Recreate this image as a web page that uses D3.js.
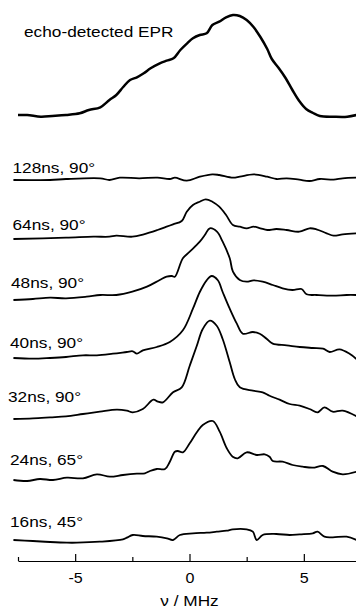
<!DOCTYPE html>
<html>
<head>
<meta charset="utf-8">
<script src="https://cdn.jsdelivr.net/npm/d3@7"></script>
<style>
  html, body { margin: 0; padding: 0; background: #fff; }
  svg text { font-family: "Liberation Sans", Arial, Helvetica, sans-serif; fill: #000; }
</style>
</head>
<body>
<script>
// 频率 (MHz) / 强度 (a.u.) —— 点
var eprData = [[-7.5,0],[-7.1,0],[-6.5,-1.7],[-6.0,-1],[-5.4,0],[-4.8,1.7],[-4.4,5],[-3.9,7.7],[-3.5,15],[-3.2,20],
  [-2.9,28],[-2.6,35],[-2.3,37.7],[-2.0,41.7],[-1.7,46.7],[-1.3,51.7],[-1.0,54.3],[-0.7,56.7],[-0.4,65],[-0.1,71.7],
  [0.15,76.7],[0.45,80],[0.75,81.7],[1.0,90],[1.3,93.3],[1.6,97.7],[1.9,100],[2.2,99],[2.5,95],[2.8,88],[3.1,78],
  [3.4,66],[3.6,56],[3.9,47],[4.2,37],[4.5,25],[4.8,14],[5.1,6],[5.4,2],[5.7,-1],[6.3,-1.7],[6.9,-1.7],[7.3,0]];

var d128 = [[-7.7,0],[-6.1,0],[-5.4,1],[-3.9,1.7],[-3.5,0],[-3.05,2.3],[-2.2,1.7],[-1.4,2.3],[-0.86,1],[-0.64,2.3],
  [-0.12,-0.7],[0.45,3.3],[1.0,5.7],[1.3,5],[1.9,2.3],[2.2,3.3],[2.8,5.7],[3.4,3.3],[3.8,1],[4.25,1.7],[4.8,0.3],
  [5.25,-1],[5.7,1],[6.3,0.3],[6.7,1.7],[7.3,2.3]];

var d64 = [[-7.7,0],[-5.4,1.3],[-4.2,2.3],[-3.5,2.3],[-3.2,3.3],[-2.5,2.3],[-2.0,4.7],[-1.4,9],[-1.0,12.3],[-0.72,14.7],
  [-0.34,18],[-0.12,27.3],[0.15,34],[0.45,37.3],[0.71,39.7],[1.0,37.3],[1.3,32.3],[1.6,24],[1.9,14],[2.2,12.3],[2.5,10.7],
  [2.8,12.3],[3.1,10.7],[3.4,9],[3.8,10],[4.25,9],[4.8,7.3],[5.25,10.7],[5.55,9.7],[6.0,5.7],[6.3,3.3],[6.7,4.7],[7.3,5.7]];

var d48 = [[-7.7,0],[-6.85,1],[-6.1,2.3],[-5.4,1.7],[-4.5,3.3],[-3.9,5],[-3.2,5],[-2.5,8.3],[-1.86,13.3],[-1.3,20],
  [-1.0,23.3],[-0.77,24],[-0.64,23.3],[-0.29,41.7],[0.01,48.3],[0.45,58.3],[0.67,65],[0.89,71.7],[1.2,68.3],[1.45,58.3],
  [1.76,41.7],[1.9,28.3],[2.2,20],[2.5,18.3],[2.8,19.7],[3.2,18.3],[3.64,15],[4.07,11.7],[4.5,10],[4.9,11],[5.12,5.7],
  [5.55,5],[6.26,4.3],[6.87,5],[7.3,5]];

var d40 = [[-7.7,0],[-6.85,-0.7],[-6.1,0],[-5.4,1],[-4.66,2.7],[-4.05,2.7],[-3.35,4.3],[-2.74,6],[-2.48,6.7],[-2.3,4.3],
  [-2.04,7.7],[-1.43,11],[-0.86,16],[-0.29,27.7],[0.15,49.3],[0.45,66],[0.75,77.7],[0.97,82],[1.24,77.7],[1.45,66],
  [1.76,49.3],[2.07,34.3],[2.33,24.3],[2.77,26],[3.07,24.3],[3.37,19.3],[3.64,14.3],[4.25,12.7],[4.82,11],[5.39,10],
  [5.84,9.3],[6.13,6],[6.56,8.7],[7.0,4.3],[7.3,-1]];

var d32 = [[-7.7,0],[-6.85,0.7],[-6.1,1.7],[-5.4,2.7],[-4.66,5],[-3.92,7.3],[-3.18,9.3],[-2.74,8.3],[-2.48,6.7],[-2.04,10],
  [-1.58,19.3],[-1.38,17.3],[-1.16,16.7],[-0.72,26.7],[-0.34,31.7],[0.01,53.3],[0.32,73.3],[0.58,90],[0.89,98.3],[1.19,93.3],
  [1.45,80],[1.76,56.7],[1.98,40],[2.2,31.7],[2.77,28.3],[3.2,26.7],[3.5,23.3],[3.94,19.3],[4.38,15],[4.82,13.3],[5.25,10],
  [5.6,6.7],[5.9,11.7],[6.26,7.3],[6.7,8.3],[7.3,2.7]];

var d24 = [[-7.7,0],[-7.1,-1],[-6.54,1],[-5.97,0],[-5.36,2.3],[-4.66,1.7],[-4.05,5.7],[-3.48,3.3],[-2.91,5],[-2.3,6.3],
  [-1.95,6.7],[-1.73,9],[-1.43,11],[-1.07,11],[-0.86,18.3],[-0.64,28.3],[-0.51,29],[-0.29,27.7],[0.01,36.7],[0.32,47.7],
  [0.58,55],[1.02,59],[1.32,48.3],[1.63,31.7],[1.89,23.3],[2.11,21.7],[2.5,27.7],[2.94,25],[3.29,25.7],[3.5,23.3],
  [3.64,19],[4.07,18.3],[4.51,15],[4.95,13.3],[5.39,12.3],[5.84,14],[6.26,8.3],[6.7,5.7],[7.3,8.3]];

var d16 = [[-7.7,0],[-6.85,-1],[-6.1,-2],[-5.36,-2.7],[-4.92,-2.7],[-3.92,-1.7],[-2.91,0.7],[-2.74,2.3],[-2.48,5],[-2.04,4],
  [-1.43,3.3],[-0.99,1.7],[-0.72,0],[-0.42,5],[0.15,6.7],[0.75,7.3],[1.19,8.3],[1.63,9.3],[1.89,10.7],[2.5,10.7],
  [2.77,8.3],[2.94,0],[3.2,5],[3.8,6],[4.38,5],[4.82,5.7],[5.39,6.7],[5.6,8.3],[5.9,3.3],[6.26,2.7],[6.87,3.3],[7.3,0]];

var traceLabels = ["echo-detected EPR","128ns, 90°","64ns, 90°","48ns, 90°","40ns, 90°","32ns, 90°","24ns, 65°","16ns, 45°"];
var traceData = [eprData, d128, d64, d48, d40, d32, d24, d16];

var majorTicks = [-5, 0, 5];
var minorTicks = [-7.5, -2.5, 2.5, 7.5];

// 版面：每条曲线的基线位置、标签位置
var baselines = [115, 180, 239, 300, 358, 419, 480, 540];
var labelPos = [[24, 37], [12.5, 172.7], [12.5, 230], [11, 288.3], [10, 348.3], [8, 402], [10, 465.3], [10, 527.3]];

var width = 356, height = 608;
var axisY = 561;
var stretch = 1.15; // 原图文字被横向拉宽

var x = d3.scaleLinear().domain([-7.5, 7.5]).range([18, 361]);
var y = d3.scaleLinear().domain([0, 100]).range([0, -100]);

var svg = d3.select("body").append("svg")
    .attr("width", width)
    .attr("height", height);

var line = d3.line()
    .x(function (d) { return x(d[0]); })
    .y(function (d) { return y(d[1]); })
    .curve(d3.curveCatmullRom.alpha(0.5));

traceData.forEach(function (data, i) {
    var g = svg.append("g").attr("transform", "translate(0," + baselines[i] + ")");
    g.append("path")
        .datum(data)
        .attr("d", line)
        .attr("fill", "none")
        .attr("stroke", "#000")
        .attr("stroke-width", i == 0 ? 2.5 : 1.8)
        .attr("stroke-linejoin", "round");

    svg.append("text")
        .attr("transform", "translate(" + labelPos[i][0] + "," + labelPos[i][1] + ") scale(" + stretch + ",1)")
        .style("font-size", "15px")
        .text(traceLabels[i]);
});

// x轴：主刻度向上，标签在下
var xAxis = d3.axisBottom(x)
    .tickValues(majorTicks)
    .tickSizeInner(-7)
    .tickSizeOuter(0)
    .tickPadding(12)
    .tickFormat(function (d) { return String(d); });

var gx = svg.append("g")
    .attr("transform", "translate(0," + axisY + ")")
    .call(xAxis);
gx.select(".domain").attr("stroke", "#000").attr("stroke-width", 1.2);
gx.selectAll(".tick line").attr("stroke", "#000").attr("stroke-width", 1.2);
gx.selectAll(".tick text")
    .style("font-size", "14px")
    .style("font-family", '"Liberation Sans", Arial, sans-serif')
    .attr("fill", "#000")
    .attr("transform", "scale(" + stretch + ",1)");

// 次刻度
var minorAxis = d3.axisBottom(x)
    .tickValues(minorTicks)
    .tickSizeInner(-4)
    .tickSizeOuter(0)
    .tickFormat("");
var gm = svg.append("g")
    .attr("transform", "translate(0," + axisY + ")")
    .call(minorAxis);
gm.select(".domain").remove();
gm.selectAll(".tick line").attr("stroke", "#000").attr("stroke-width", 1.2);

svg.append("text")
    .attr("transform", "translate(" + x(0) + ",606) scale(" + stretch + ",1)")
    .attr("text-anchor", "middle")
    .style("font-size", "15px")
    .text("ν / MHz");
</script>
</body>
</html>
